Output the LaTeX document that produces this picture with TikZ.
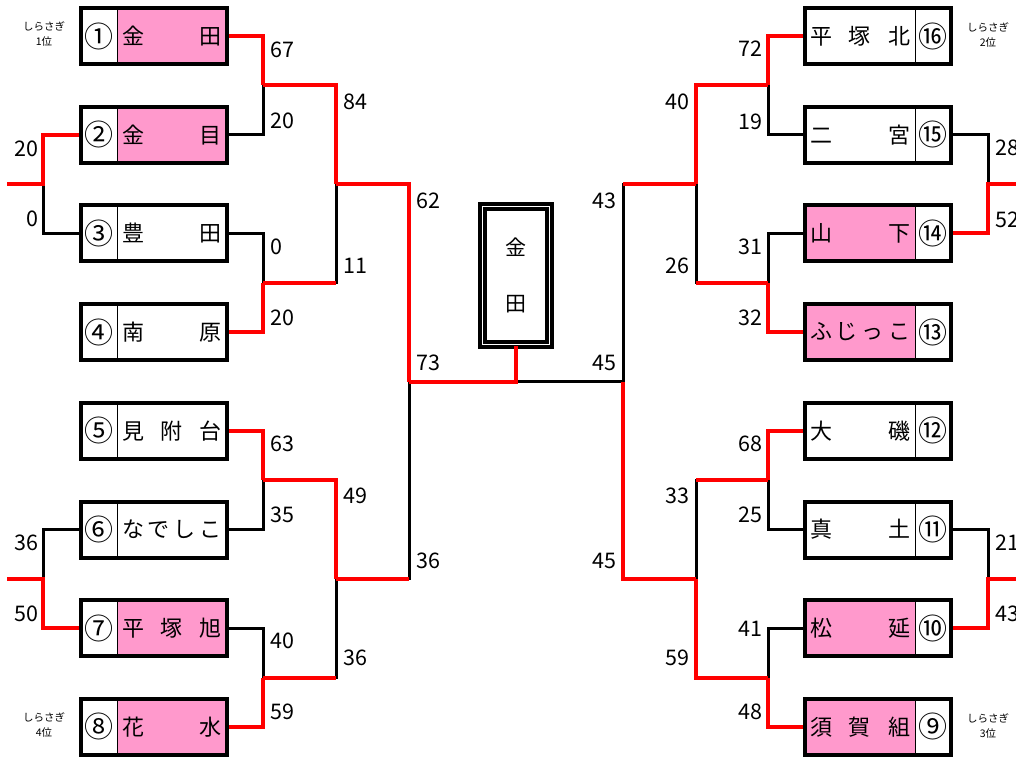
\documentclass[tikz,border=0pt]{standalone}
\usepackage{fontspec}
\setmainfont{Noto Sans CJK JP}
\usetikzlibrary{positioning}
\definecolor{winpink}{HTML}{FF99CC}
\definecolor{winred}{HTML}{FF0000}
\tikzset{numcell/.style={inner sep=0pt, outer sep=0pt, minimum width=36pt, minimum height=56pt, font=\fontsize{29}{29}\selectfont},
namecell/.style={inner sep=0pt, outer sep=0pt, minimum width=110pt, minimum height=56pt, font=\fontsize{22}{22}\selectfont},
frame/.style={line width=4pt},
win/.style={winred, line width=4pt},
lose/.style={black, line width=3pt},
score/.style={inner sep=0pt, font=\fontsize{21.5}{21.5}\selectfont},
rank/.style={inner sep=0pt, align=center, font=\fontsize{10.5}{15}\selectfont},
champ/.style={draw, double, line width=3.5pt, double distance=1.5pt, inner sep=0pt, minimum width=67pt, minimum height=138pt, align=center, font=\fontsize{21}{56}\selectfont}}

\begin{document}
\begin{tikzpicture}[x=1pt,y=-1pt]
\useasboundingbox (0,0) rectangle (1016,757);
% left teams
\foreach \k/\nm/\fl [count=\i] in {①/金\hfill 田/winpink,②/金\hfill 目/winpink,③/豊\hfill 田/white,④/南\hfill 原/white,⑤/見\hfill 附\hfill 台/white,⑥/な\hfill で\hfill し\hfill こ/white,⑦/平\hfill 塚\hfill 旭/winpink,⑧/花\hfill 水/winpink}{
\node[numcell] (n\i) at (99,{36+(\i-1)*98.7}) {\k};
\node[namecell,fill=\fl,right=0pt of n\i] (t\i) {\makebox[100pt]{\nm}};
}
% right teams
\foreach \k/\nm/\fl [count=\i] in {⑯/平\hfill 塚\hfill 北/white,⑮/二\hfill 宮/white,⑭/山\hfill 下/winpink,⑬/ふ\hfill じ\hfill っ\hfill こ/winpink,⑫/大\hfill 磯/white,⑪/真\hfill 土/white,⑩/松\hfill 延/winpink,⑨/須\hfill 賀\hfill 組/winpink}{
\pgfmathtruncatemacro\sd{17-\i}
\node[namecell,fill=\fl] (t\sd) at (860,{36+(\i-1)*98.7}) {\makebox[100pt]{\nm}};
\node[numcell,right=0pt of t\sd] (n\sd) {\k};
}
\node[champ] (w) at (516,275.5) {金\\田};
% junctions
\coordinate (a12) at (263,85.4);
\coordinate (a34) at (263,282.8);
\coordinate (a56) at (263,480.2);
\coordinate (a78) at (263,677.6);
\coordinate (o23) at (43,184.1);
\coordinate (o67) at (43,578.9);
\coordinate (e23) at (7,184.1);
\coordinate (e67) at (7,578.9);
\coordinate (b14) at (336,184.1);
\coordinate (b58) at (336,578.9);
\coordinate (c18) at (409,381.5);
\coordinate (a1615) at (768,85.4);
\coordinate (a1413) at (768,282.8);
\coordinate (a1211) at (768,480.2);
\coordinate (a109) at (768,677.6);
\coordinate (o1514) at (988,184.1);
\coordinate (o1110) at (988,578.9);
\coordinate (e1514) at (1016,184.1);
\coordinate (e1110) at (1016,578.9);
\coordinate (b1613) at (696,184.1);
\coordinate (b129) at (696,578.9);
\coordinate (c169) at (623,381.5);
% lost
\draw[lose] (t2.east) -| (a12);
\draw[lose] (n3.west) -| (o23);
\draw[lose] (t3.east) -| (a34);
\draw[lose] (t6.east) -| (a56);
\draw[lose] (n6.west) -| (o67);
\draw[lose] (t7.east) -| (a78);
\draw[lose] (a34) -| (b14);
\draw[lose] (a78) -| (b58);
\draw[lose] (b58) -| (c18);
\draw[lose] (t15.west) -| (a1615);
\draw[lose] (n15.east) -| (o1514);
\draw[lose] (t14.west) -| (a1413);
\draw[lose] (t11.west) -| (a1211);
\draw[lose] (n11.east) -| (o1110);
\draw[lose] (t10.west) -| (a109);
\draw[lose] (a1413) -| (b1613);
\draw[lose] (a1211) -| (b129);
\draw[lose] (b1613) -| (c169);
\draw[lose] (c169) -- (c169 -| w.south);
% won
\draw[win] (t1.east) -| (a12);
\draw[win] (n2.west) -| (o23) -- (e23);
\draw[win] (t4.east) -| (a34);
\draw[win] (t5.east) -| (a56);
\draw[win] (n7.west) -| (o67) -- (e67);
\draw[win] (t8.east) -| (a78);
\draw[win] (a12) -| (b14);
\draw[win] (a34) -- (a34 -| b14);
\draw[win] (a56) -| (b58);
\draw[win] (a78) -- (a78 -| b58);
\draw[win] (b14) -| (c18);
\draw[win] (b58) -- (b58 -| c18);
\draw[win] (c18) -| (w.south);
\draw[win] (t16.west) -| (a1615);
\draw[win] (n14.east) -| (o1514) -- (e1514);
\draw[win] (t13.west) -| (a1413);
\draw[win] (t12.west) -| (a1211);
\draw[win] (n10.east) -| (o1110) -- (e1110);
\draw[win] (t9.west) -| (a109);
\draw[win] (a1615) -| (b1613);
\draw[win] (a1413) -- (a1413 -| b1613);
\draw[win] (a109) -| (b129);
\draw[win] (a1211) -- (a1211 -| b129);
\draw[win] (b129) -| (c169);
\draw[win] (b1613) -- (b1613 -| c169);
% frames
\foreach \i in {1,...,8}{
\draw[frame] (n\i.north west) rectangle (t\i.south east);
\draw (n\i.north east) -- (n\i.south east);
}
\foreach \i in {9,...,16}{
\draw[frame] (t\i.north west) rectangle (n\i.south east);
\draw (n\i.north west) -- (n\i.south west);
}
% scores
\foreach \v/\x/\y/\an [count=\j] in {67/270/50/west,20/270/121/west,20/39/149/east,0/39/219/east,0/270/247/west,20/270/318/west,84/343/102/west,11/343/266/west,62/416/201/west,73/416/363/west,36/416/561/west,63/270/444/west,35/270/515/west,36/39/543/east,50/39/614/east,40/270/641/west,59/270/712/west,49/343/496/west,36/343/658/west,72/763/49/east,19/763/122/east,28/995/148/west,52/995/220/west,31/763/247/east,32/763/318/east,40/690/102/east,26/690/266/east,43/617/201/east,45/617/363/east,45/617/561/east,68/763/444/east,25/763/515/east,21/995/543/west,43/995/614/west,41/763/629/east,48/763/712/east,33/690/496/east,59/690/658/east}{
\node[score,anchor=\an] (sc\j) at (\x,\y) {\v};
}
\node[rank] (r1) at (44,34) {しらさぎ\\1位};
\node[rank] (r2) at (988,35) {しらさぎ\\2位};
\node[rank] (r3) at (988,726) {しらさぎ\\3位};
\node[rank] (r4) at (44,725) {しらさぎ\\4位};
\end{tikzpicture}
\end{document}
